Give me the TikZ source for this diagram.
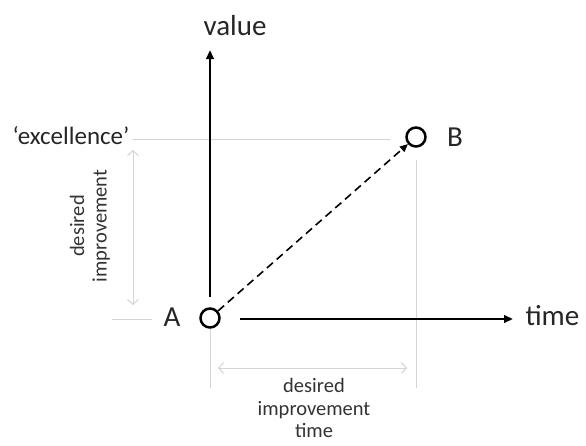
\documentclass[tikz,border=0pt]{standalone}
\usepackage{fontspec}
\setmainfont{Carlito}
\usetikzlibrary{calc,positioning,arrows.meta}
\tikzset{
  % line styles
  % axis: thick black arrow, guide: thin grey help line
  axis/.style={line width=2.6pt,-{Triangle[length=9pt,width=7.5pt]}},
  guide/.style={draw=black!17,line width=1pt},
  span/.style={guide,{Straight Barb[length=5pt,width=11pt]}-{Straight Barb[length=5pt,width=11pt]}},
  trajectory/.style={line width=1.6pt,dash pattern=on 8pt off 5pt,-{Triangle[length=8pt,width=7pt]}},
  % node styles (states, labels, free ends)
  state/.style={circle,draw,line width=2.5pt,fill=white,inner sep=0pt,minimum size=19pt},
  void/.style={inner sep=0pt,minimum size=0pt},
  biglabel/.style={font=\fontsize{29}{34}\selectfont,text=black!85},
  midlabel/.style={font=\fontsize{25}{30}\selectfont,text=black!85},
  smalllabel/.style={font=\fontsize{20.5}{22.5}\selectfont,text=black!80,align=center},
}
\begin{document}
\begin{tikzpicture}[x=1pt,y=-1pt]
  \useasboundingbox (0,0) rectangle (586,445);
  % the two states
  \node[state] (A) at (210,318) {};
  \node[state] (B) at (416,137) {};
  \node[biglabel] (Alab) at (172,317) {A};
  \node[biglabel] (Blab) at (455,137) {B};
  % axes
  \coordinate (vbot) at (210,297);
  \coordinate (vtop) at (210,50);
  \coordinate (hleft) at (240,319);
  \coordinate (hright) at (513,319);
  \node[biglabel] (value) at (235,26) {value};
  \node[biglabel,anchor=west] (time) at (522,316) {time};
  % grey help lines
  \node[midlabel] (exc) at (71,136) {‘excellence’};
  \coordinate (excend) at (390,139);
  \draw[guide] (exc.east |- excend) -- (excend);
  \coordinate (al) at (112,319);
  \coordinate (ar) at (152,319);
  \draw[guide] (al) -- (ar);
  \coordinate (bdown) at (416,388);
  \draw[guide] (B.south |- 0,160) -- (bdown);
  \coordinate (adown) at (210,388);
  \draw[guide] (A.south) -- (adown);
  % spans
  \coordinate (s1) at (133,150);
  \coordinate (s2) at (133,305);
  \draw[span] (s1) -- (s2);
  \node[smalllabel,rotate=90] (dimp) at (90,226) {desired\\improvement};
  \coordinate (t1) at (218,368);
  \coordinate (t2) at (407,368);
  \draw[span] (t1) -- (t2);
  \node[smalllabel] (dtime) at (314,408) {desired\\improvement\\time};
  \draw[axis] (vbot) -- (vtop);
  \draw[axis] (hleft) -- (hright);
  \draw[trajectory] (A) -- (B);
\end{tikzpicture}
\end{document}
